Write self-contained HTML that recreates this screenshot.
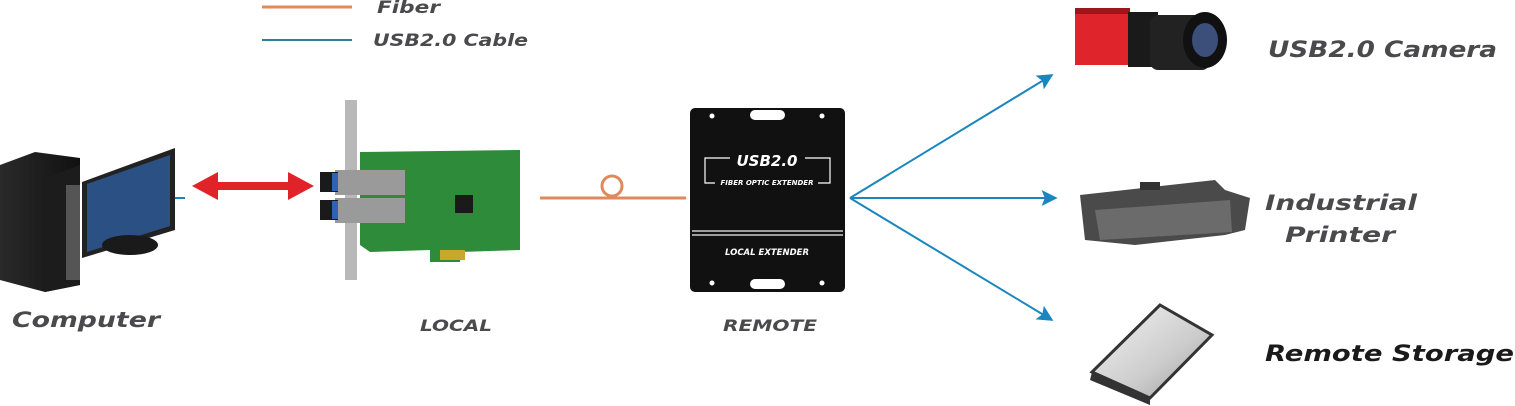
<!DOCTYPE html>
<html><head><meta charset="utf-8"><style>
html,body{margin:0;padding:0;background:#fff;}
svg{display:block;}
text{font-family:"DejaVu Sans","Liberation Sans",sans-serif;font-weight:bold;font-style:italic;fill:#4a4a4c;}
</style></head><body>
<svg width="1515" height="406" viewBox="0 0 1515 406" xmlns="http://www.w3.org/2000/svg">
<defs>
<marker id="bh" viewBox="0 0 10 10" refX="9" refY="5" markerWidth="9" markerHeight="8" orient="auto"><path d="M0,0 L10,5 L0,10 L2,5 Z" fill="#1a86bd"/></marker>
<linearGradient id="tw" x1="0" x2="1"><stop offset="0" stop-color="#2a2a2a"/><stop offset="1" stop-color="#111"/></linearGradient>
<linearGradient id="hd" x1="0" y1="0" x2="1" y2="1"><stop offset="0" stop-color="#f4f4f4"/><stop offset="0.6" stop-color="#ccc"/><stop offset="1" stop-color="#999"/></linearGradient>
</defs>
<!-- legend -->
<line x1="262" y1="7" x2="352" y2="7" stroke="#e0895a" stroke-width="3"/>
<text x="377" y="13" font-size="17" textLength="63" lengthAdjust="spacingAndGlyphs">Fiber</text>
<line x1="262" y1="40" x2="352" y2="40" stroke="#2a7f96" stroke-width="2"/>
<text x="373" y="46" font-size="17" textLength="155" lengthAdjust="spacingAndGlyphs">USB2.0 Cable</text>

<!-- computer -->
<polygon points="0,165 35,152 80,158 80,285 45,292 0,280" fill="url(#tw)"/>
<polygon points="45,178 80,165 80,285 45,292" fill="#1c1c1c"/>
<rect x="66" y="185" width="14" height="95" fill="#555"/>
<polygon points="82,182 175,148 175,230 82,258" fill="#222"/>
<polygon points="87,184 170,155 170,226 87,252" fill="#2b5184"/>
<ellipse cx="130" cy="245" rx="28" ry="10" fill="#1a1a1a"/>
<line x1="175" y1="198" x2="185" y2="198" stroke="#1a86bd" stroke-width="2"/>

<!-- red arrow -->
<polygon points="192,186 218,172 218,182 288,182 288,172 314,186 288,200 288,190 218,190 218,200" fill="#e02328"/>

<!-- PCIe card -->
<rect x="345" y="100" width="12" height="180" fill="#b8b8b8"/>
<polygon points="360,152 520,150 520,250 460,252 460,262 430,262 430,250 370,252 360,245" fill="#2e8b3a"/>
<rect x="440" y="250" width="25" height="10" fill="#c9a72c"/>
<rect x="455" y="195" width="18" height="18" fill="#1a1a1a"/>
<rect x="335" y="170" width="70" height="25" fill="#9a9a9a"/>
<rect x="335" y="198" width="70" height="25" fill="#9a9a9a"/>
<rect x="320" y="172" width="18" height="20" fill="#1a1a1a"/>
<rect x="320" y="200" width="18" height="20" fill="#1a1a1a"/>
<rect x="332" y="173" width="6" height="18" fill="#2f62b5"/>
<rect x="332" y="201" width="6" height="18" fill="#2f62b5"/>

<!-- fiber -->
<line x1="540" y1="198" x2="686" y2="198" stroke="#e0895a" stroke-width="3"/>
<circle cx="612" cy="186" r="10" fill="none" stroke="#e0895a" stroke-width="3"/>

<!-- remote box -->
<rect x="690" y="108" width="155" height="184" rx="5" fill="#111"/>
<circle cx="712" cy="116" r="2.5" fill="#fff"/><circle cx="822" cy="116" r="2.5" fill="#fff"/>
<circle cx="712" cy="283" r="2.5" fill="#fff"/><circle cx="822" cy="283" r="2.5" fill="#fff"/>
<rect x="750" y="110" width="35" height="10" rx="5" fill="#fff"/>
<rect x="750" y="279" width="35" height="10" rx="5" fill="#fff"/>
<path d="M730,158 H705 V183 H715 M805,158 H830 V183 H818" fill="none" stroke="#fff" stroke-width="1.2"/>
<text x="767" y="166" font-size="15" text-anchor="middle" style="fill:#fff">USB2.0</text>
<text x="767" y="185" font-size="7" text-anchor="middle" style="fill:#fff">FIBER OPTIC EXTENDER</text>
<line x1="692" y1="231" x2="843" y2="231" stroke="#ccc" stroke-width="1.5"/>
<line x1="692" y1="235" x2="843" y2="235" stroke="#ccc" stroke-width="1.5"/>
<text x="767" y="255" font-size="8.5" text-anchor="middle" style="fill:#fff">LOCAL  EXTENDER</text>

<!-- blue fan -->
<line x1="850" y1="198" x2="1052" y2="75" stroke="#1a86bd" stroke-width="2" marker-end="url(#bh)"/>
<line x1="850" y1="198" x2="1056" y2="198" stroke="#1a86bd" stroke-width="2" marker-end="url(#bh)"/>
<line x1="850" y1="198" x2="1052" y2="320" stroke="#1a86bd" stroke-width="2" marker-end="url(#bh)"/>

<!-- camera -->
<rect x="1075" y="8" width="55" height="57" fill="#e0242c"/>
<rect x="1075" y="8" width="55" height="6" fill="#a0151a"/>
<rect x="1128" y="12" width="30" height="55" fill="#1a1a1a"/>
<rect x="1150" y="15" width="60" height="55" rx="8" fill="#222"/>
<ellipse cx="1205" cy="40" rx="22" ry="28" fill="#111"/>
<ellipse cx="1205" cy="40" rx="13" ry="17" fill="#3b4f7a"/>
<text x="1268" y="57" font-size="22" textLength="229" lengthAdjust="spacingAndGlyphs">USB2.0 Camera</text>

<!-- printer -->
<polygon points="1080,195 1215,180 1225,190 1250,198 1245,230 1225,235 1135,245 1085,240" fill="#4a4a4a"/>
<polygon points="1095,210 1230,200 1232,232 1100,240" fill="#6b6b6b"/>
<rect x="1140" y="182" width="20" height="8" fill="#333"/>
<text x="1265" y="210" font-size="21" textLength="152" lengthAdjust="spacingAndGlyphs">Industrial</text>
<text x="1285" y="242" font-size="21" textLength="110" lengthAdjust="spacingAndGlyphs">Printer</text>

<!-- HDD -->
<polygon points="1160,305 1212,335 1150,398 1092,372" fill="url(#hd)" stroke="#333" stroke-width="3"/>
<polygon points="1092,372 1150,398 1150,405 1090,380" fill="#333"/>
<text x="1265" y="361" font-size="22" textLength="249" lengthAdjust="spacingAndGlyphs" style="fill:#1a1a1a">Remote Storage</text>

<!-- labels -->
<text x="12" y="327" font-size="21" textLength="148" lengthAdjust="spacingAndGlyphs">Computer</text>
<text x="420" y="331" font-size="16" textLength="72" lengthAdjust="spacingAndGlyphs">LOCAL</text>
<text x="723" y="331" font-size="16" textLength="94" lengthAdjust="spacingAndGlyphs">REMOTE</text>
</svg>
</body></html>
